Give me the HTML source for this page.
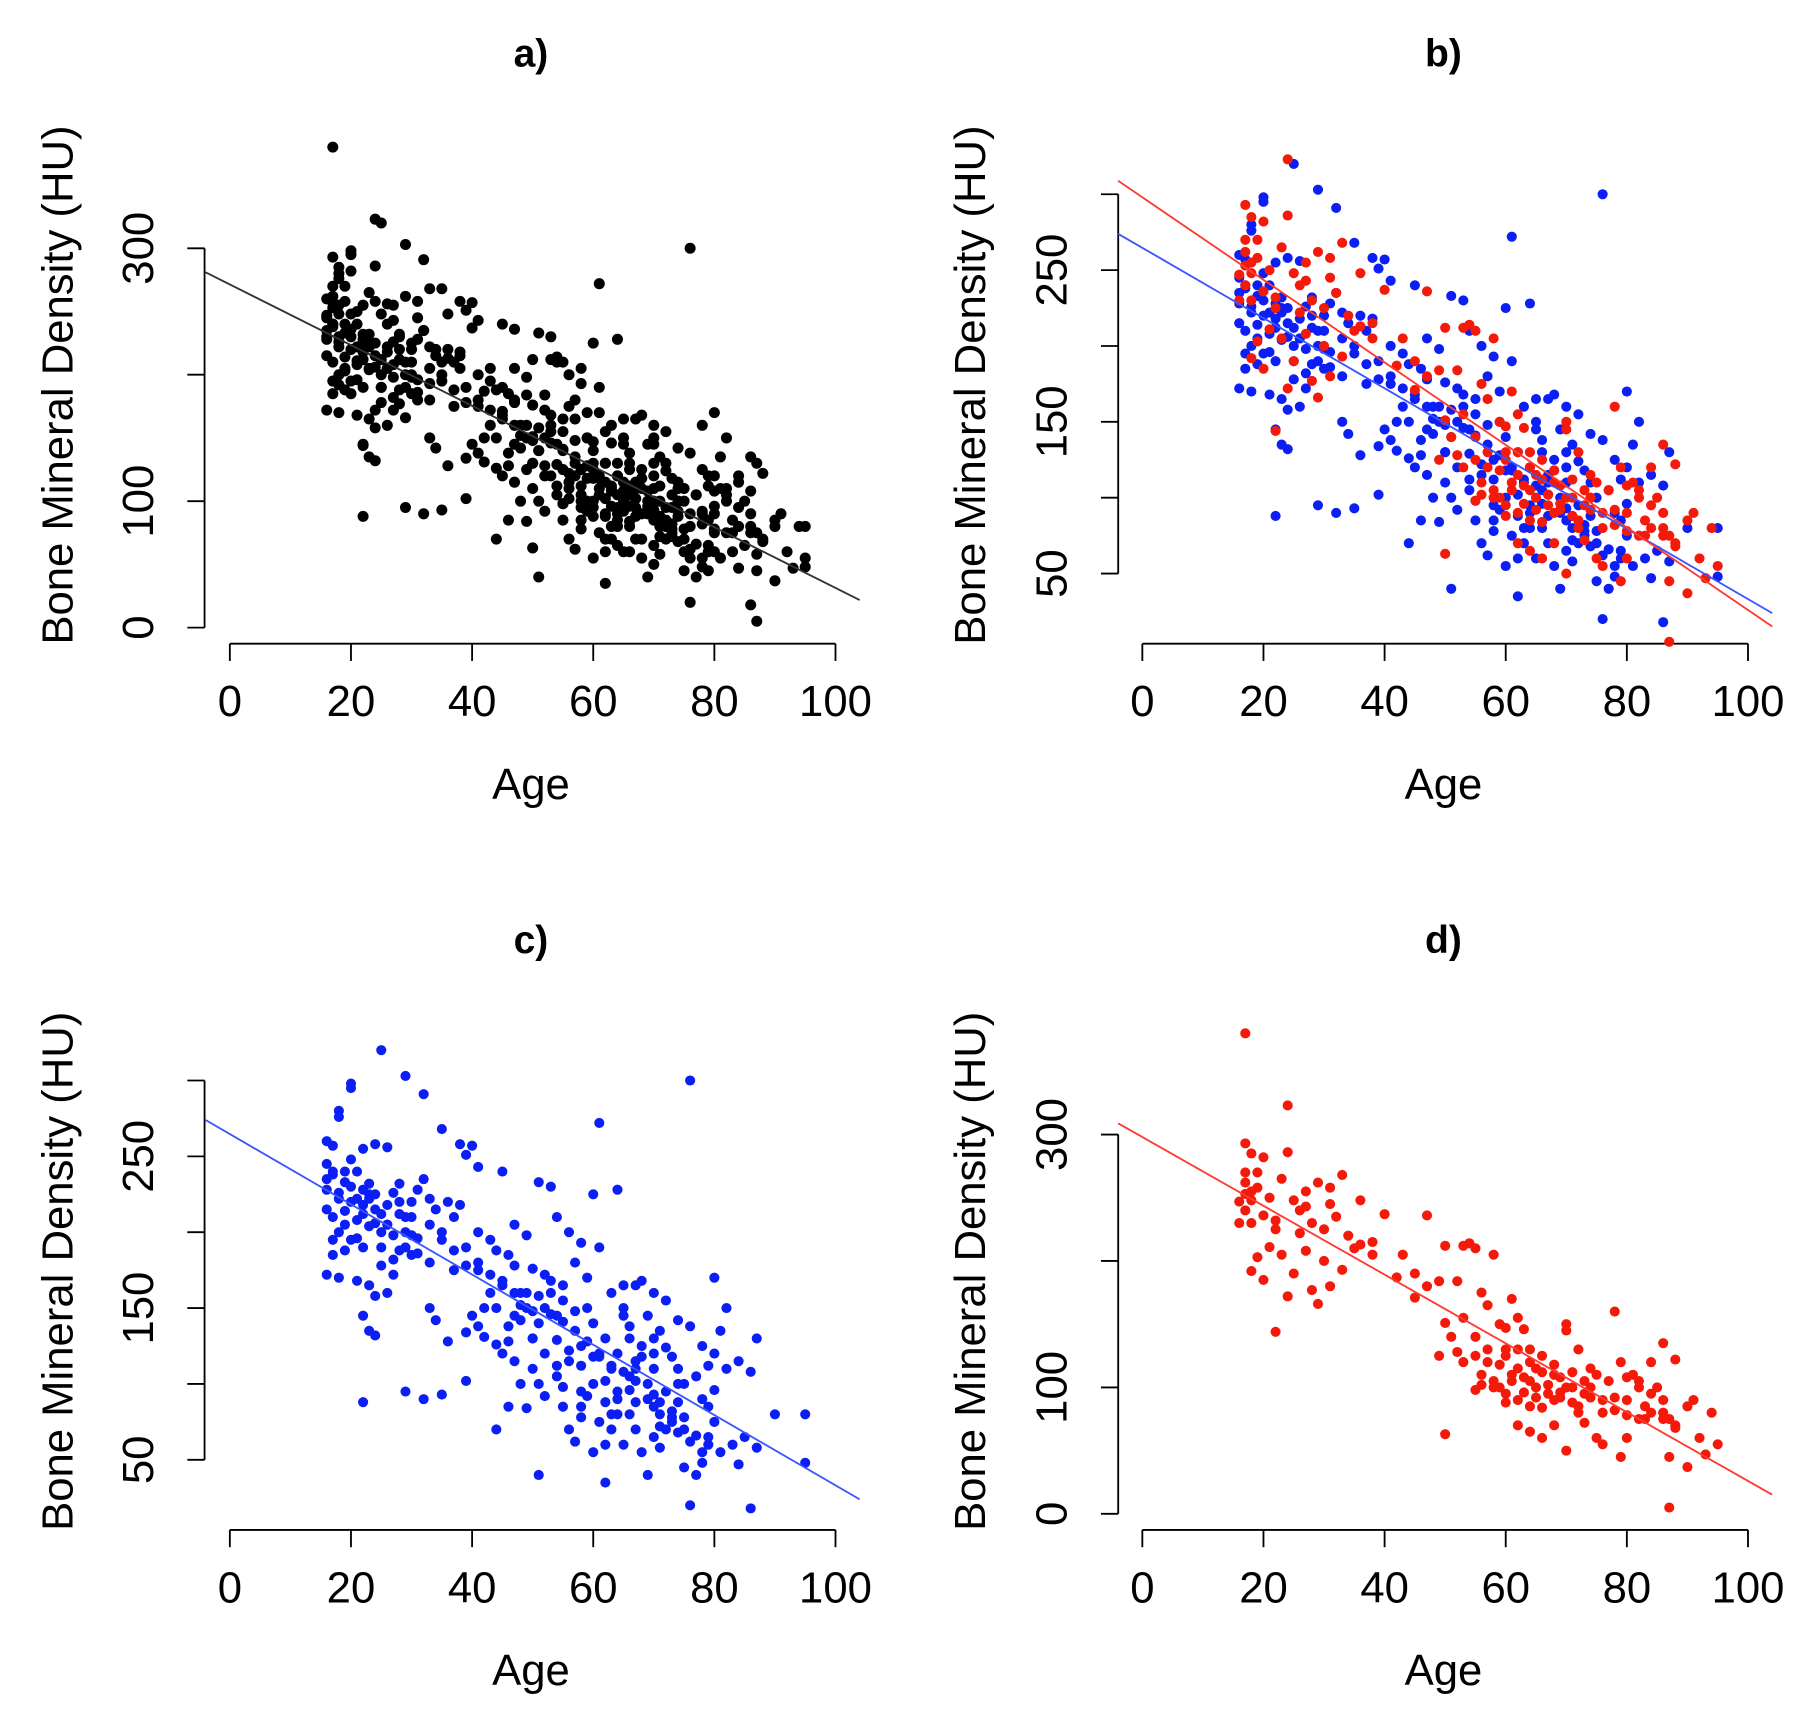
<!DOCTYPE html>
<html><head><meta charset="utf-8"><style>html,body{margin:0;padding:0;background:#fff}svg{display:block}text{font-family:"Liberation Sans",sans-serif}</style></head>
<body>
<svg id="fig" width="1802" height="1715" viewBox="0 0 1568 1492" preserveAspectRatio="none"><defs><clipPath id="clipB"><rect x="794" y="112" width="774" height="470"/></clipPath></defs></svg>
<script>
const xTicks=[0,20,40,60,80,100];
const yTicksHU300=[0,100,200,300];
const yLabelsHU300=["0","100","","300"];
const yTicksHU250=[50,100,150,200,250,300];
const yLabelsHU250=["50","","150","","250",""];
const panelTitles=["a)","b)","c)","d)"];
const fitAll=[271.4,-2.40];
const fitRed=[298,-2.72];
const fitBlue=[264.7,-2.315];
const redAge=[17,24,17,18,20,24,17,17,18,19,16,17,16,18,22,26,27,29,31,33,31,28,30,21,23,19,18,20,25,24,28,31,29,22,33,35,36,36,40,38,42,45,47,49,52,50,53,54,55,58,56,57,59,60,61,62,63,50,49,52,53,55,57,56,55,50,60,62,64,65,66,61,63,65,67,68,62,64,66,60,58,59,70,72,75,78,79,80,81,82,84,86,88,84,83,82,86,88,90,91,94,92,95,93,87,70,71,73,74,76,77,72,73,75,76,69,68,66,62,64,70,79,80,83,85,87,78,80,87,90,74,86,69,71];
const redBMD=[380,323,293,285,282,286,270,253,255,258,247,240,230,230,225,222,243,262,258,268,245,230,225,211,205,203,192,185,190,172,177,180,166,144,193,210,213,248,237,205,187,171,236,184,184,212,212,214,210,205,175,165,150,147,170,155,146,151,125,128,120,125,130,102,98,63,130,130,120,115,125,105,96,100,95,110,90,85,84,88,105,100,145,130,110,160,120,108,110,105,120,135,122,95,85,75,80,68,85,90,80,60,55,47,5,150,100,95,100,90,105,80,72,60,55,108,70,60,70,65,50,45,60,75,100,75,92,78,45,37,115,75,92,112];
const redAgeExtra=[17,18,19,20,21,22,23,25,26,27,55,57,59,61,63,65,67,69,71,73,58,60,62,64,66,68,70,72,74,76,78,80,82,84,86,88,56,60,64,68,51,53,47,45,43,32,34,38,30,27];
const redBMDExtra=[262,248,270,236,250,232,265,248,240,255,140,120,118,110,108,92,102,96,88,105,100,95,115,105,112,90,100,85,92,80,82,90,100,80,90,70,110,125,130,118,140,155,180,190,205,235,220,215,200,208];
const blueAge=[25,29,20,20,32,18,18,35,38,40,39,16,17,22,24,26,20,21,17,16,19,23,28,32,16,18,20,22,24,26,28,30,34,36,38,17,19,21,23,25,27,29,31,17,19,22,25,27,30,33,37,39,16,18,21,23,26,24,22,23,24,33,34,36,39,41,42,44,46,48,43,45,47,50,52,51,53,48,50,53,55,57,54,58,59,60,62,64,63,65,67,68,70,72,74,75,77,79,80,82,80,81,82,80,84,87,86,90,95,95,22,29,32,35,39,44,46,49,51,52,54,56,57,58,60,61,62,63,64,65,66,67,68,69,70,71,72,73,74,75,76,77,78,79,80,81,83,84,86,85,87,55,56,58,60,61,62,64,66,67,69,70,71,73,60,64,61,76,47,49,51,53,41,43,44,46,41,65,67,68,70,72,74,76,78,65,69,71,73,57,58,61,55,56,54,49,47,45,50,52,48,59,63,66,70,40,42,37,35,33,31,45,41];
const blueBMD=[320,303,298,295,291,280,276,268,258,257,251,260,257,255,258,256,248,240,240,235,233,232,232,235,228,222,220,218,215,218,212,210,215,220,218,210,205,208,204,200,198,200,196,195,188,190,178,172,185,180,175,178,172,170,168,165,160,158,145,135,132,150,142,128,134,138,131,126,128,142,160,168,178,176,172,158,160,152,148,146,141,135,129,125,150,140,130,120,110,108,115,125,130,124,110,100,105,112,96,110,120,135,150,170,115,130,108,80,80,48,88,95,90,93,102,70,85,84,40,92,105,70,62,85,55,75,35,80,90,60,80,70,55,40,65,58,95,82,88,45,20,40,48,65,75,55,60,47,18,65,58,98,115,112,100,118,102,95,96,110,100,93,88,78,225,228,272,300,205,198,233,230,200,195,188,185,175,150,165,168,160,155,142,138,125,165,145,135,118,180,193,190,165,200,210,160,145,120,110,120,100,170,160,138,110,145,150,188,200,222,228,240,243];
const blueAgeExtra=[16,17,18,19,20,21,22,23,24,25,26,27,28,29,30,16,18,20,22,24,26,28,30,17,19,21,23,25,27,29,31,33,35,37,39,41,43,45,47,49,51,53,55,57,59,61,63,65,67,69,71,73,75,77,79,46,48,50,52,54,56,58,60,62,64,66,68,70,72,74,76,78,44,47,51,55,59,63,67,71,75,79,50,54,58,62,66,70,74,78];
const blueBMDExtra=[245,238,226,214,230,222,212,225,206,212,205,226,220,190,198,215,200,195,228,225,205,188,220,185,240,196,222,190,182,210,186,205,195,210,190,180,172,165,160,150,140,168,155,148,128,120,112,145,102,90,80,75,70,66,60,138,160,130,150,112,122,95,118,88,80,130,118,85,70,100,62,55,150,115,100,85,92,70,88,72,78,85,130,145,78,60,105,120,68,90];

const NS="http://www.w3.org/2000/svg";
const svg=document.getElementById('fig');
function mk(tag,attrs,parent){const e=document.createElementNS(NS,tag);for(const k in attrs)e.setAttribute(k,attrs[k]);(parent||svg).appendChild(e);return e;}

const panels=[
 {ox:0,oy:0,yAxisX:178,xAxisY:560,x0:200,yBase:0,yBasePx:546,ppu:1.1,ticks:yTicksHU300,labels:yLabelsHU300},
 {ox:794,oy:0,yAxisX:973,xAxisY:560,x0:994,yBase:50,yBasePx:499,ppu:1.32,ticks:yTicksHU250,labels:yLabelsHU250},
 {ox:0,oy:771,yAxisX:178,xAxisY:1331,x0:200,yBase:50,yBasePx:1270,ppu:1.32,ticks:yTicksHU250,labels:yLabelsHU250},
 {ox:794,oy:771,yAxisX:973,xAxisY:1331,x0:994,yBase:0,yBasePx:1317,ppu:1.1,ticks:yTicksHU300,labels:yLabelsHU300}
];
const xpu=5.27;
const allBlueAge=blueAge.concat(blueAgeExtra), allBlueBMD=blueBMD.concat(blueBMDExtra);
const allRedAge=redAge.concat(redAgeExtra), allRedBMD=redBMD.concat(redBMDExtra);

function drawPanel(i){
 const p=panels[i];
 const g=mk('g',{});
 
 
 const sx=a=>p.x0+a*xpu;
 const sy=v=>p.yBasePx-(v-p.yBase)*p.ppu;
 const t=mk('text',{x:p.ox+462,y:p.oy+58,'text-anchor':'middle','font-size':34,'font-weight':'bold'},g);
 t.textContent=panelTitles[i];
 
 
 const xa=mk('g',{},g);
 
 
 mk('line',{x1:sx(xTicks[0]),x2:sx(xTicks[xTicks.length-1]),y1:p.xAxisY,y2:p.xAxisY,stroke:'#000','stroke-width':1.6},xa);
 xTicks.forEach(v=>{
  mk('line',{x1:sx(v),x2:sx(v),y1:p.xAxisY,y2:p.xAxisY+15,stroke:'#000','stroke-width':1.6},xa);
  const l=mk('text',{x:sx(v),y:p.xAxisY+63,'text-anchor':'middle','font-size':38},xa);
  l.textContent=v;
  
  
 });
 const xt=mk('text',{x:p.ox+462,y:p.xAxisY+135,'text-anchor':'middle','font-size':38},g);
 xt.textContent='Age';
 
 
 const ya=mk('g',{},g);
 
 
 const tk=p.ticks;
 mk('line',{x1:p.yAxisX,x2:p.yAxisX,y1:sy(tk[0]),y2:sy(tk[tk.length-1]),stroke:'#000','stroke-width':1.6},ya);
 tk.forEach((v,j)=>{
  mk('line',{x1:p.yAxisX,x2:p.yAxisX-15,y1:sy(v),y2:sy(v),stroke:'#000','stroke-width':1.6},ya);
  if(p.labels[j]){
   const lx=p.yAxisX-45, ly=sy(v);
   const l=mk('text',{x:lx,y:ly,'text-anchor':'middle','font-size':38,transform:`rotate(-90 ${lx} ${ly})`},ya);
   l.textContent=p.labels[j];
   
   
  }
 });
 const yx=p.ox+63, yy=p.oy+335;
 const yt=mk('text',{x:yx,y:yy,'text-anchor':'middle','font-size':38,transform:`rotate(-90 ${yx} ${yy})`},g);
 yt.textContent='Bone Mineral Density (HU)';
 
 
 const plot=mk('g',i===1?{'clip-path':'url(#clipB)'}:{},g);
 const series=[];
 if(i===0){series.push([allBlueAge,allBlueBMD,'#000']);series.push([allRedAge,allRedBMD,'#000']);}
 if(i===1){series.push([allBlueAge,allBlueBMD,'#0a1ef5']);series.push([allRedAge,allRedBMD,'#f5190a']);}
 if(i===2){series.push([allBlueAge,allBlueBMD,'#0a1ef5']);}
 if(i===3){series.push([allRedAge,allRedBMD,'#f5190a']);}
 series.forEach(s=>{
  const pg=mk('g',{fill:s[2]},plot);
  
  
  s[0].forEach((a,k)=>{
   const c=mk('circle',{cx:sx(a),cy:sy(s[1][k]),r:i===0?4.8:4.4},pg);
   
   
  });
 });
 const fits=[];
 if(i===0)fits.push([fitAll,'#333']);
 if(i===1){fits.push([fitBlue,'#3a55ff']);fits.push([fitRed,'#ff3a30']);}
 if(i===2)fits.push([fitBlue,'#3a55ff']);
 if(i===3)fits.push([fitRed,'#ff3a30']);
 fits.forEach(f=>{
  const a1=-4,a2=104;
  const ln=mk('line',{x1:sx(a1),y1:sy(f[0][0]+f[0][1]*a1),x2:sx(a2),y2:sy(f[0][0]+f[0][1]*a2),stroke:f[1],'stroke-width':1.6},g);
  
  
 });
}
for(let i=0;i<4;i++)drawPanel(i);
</script>
</body></html>
